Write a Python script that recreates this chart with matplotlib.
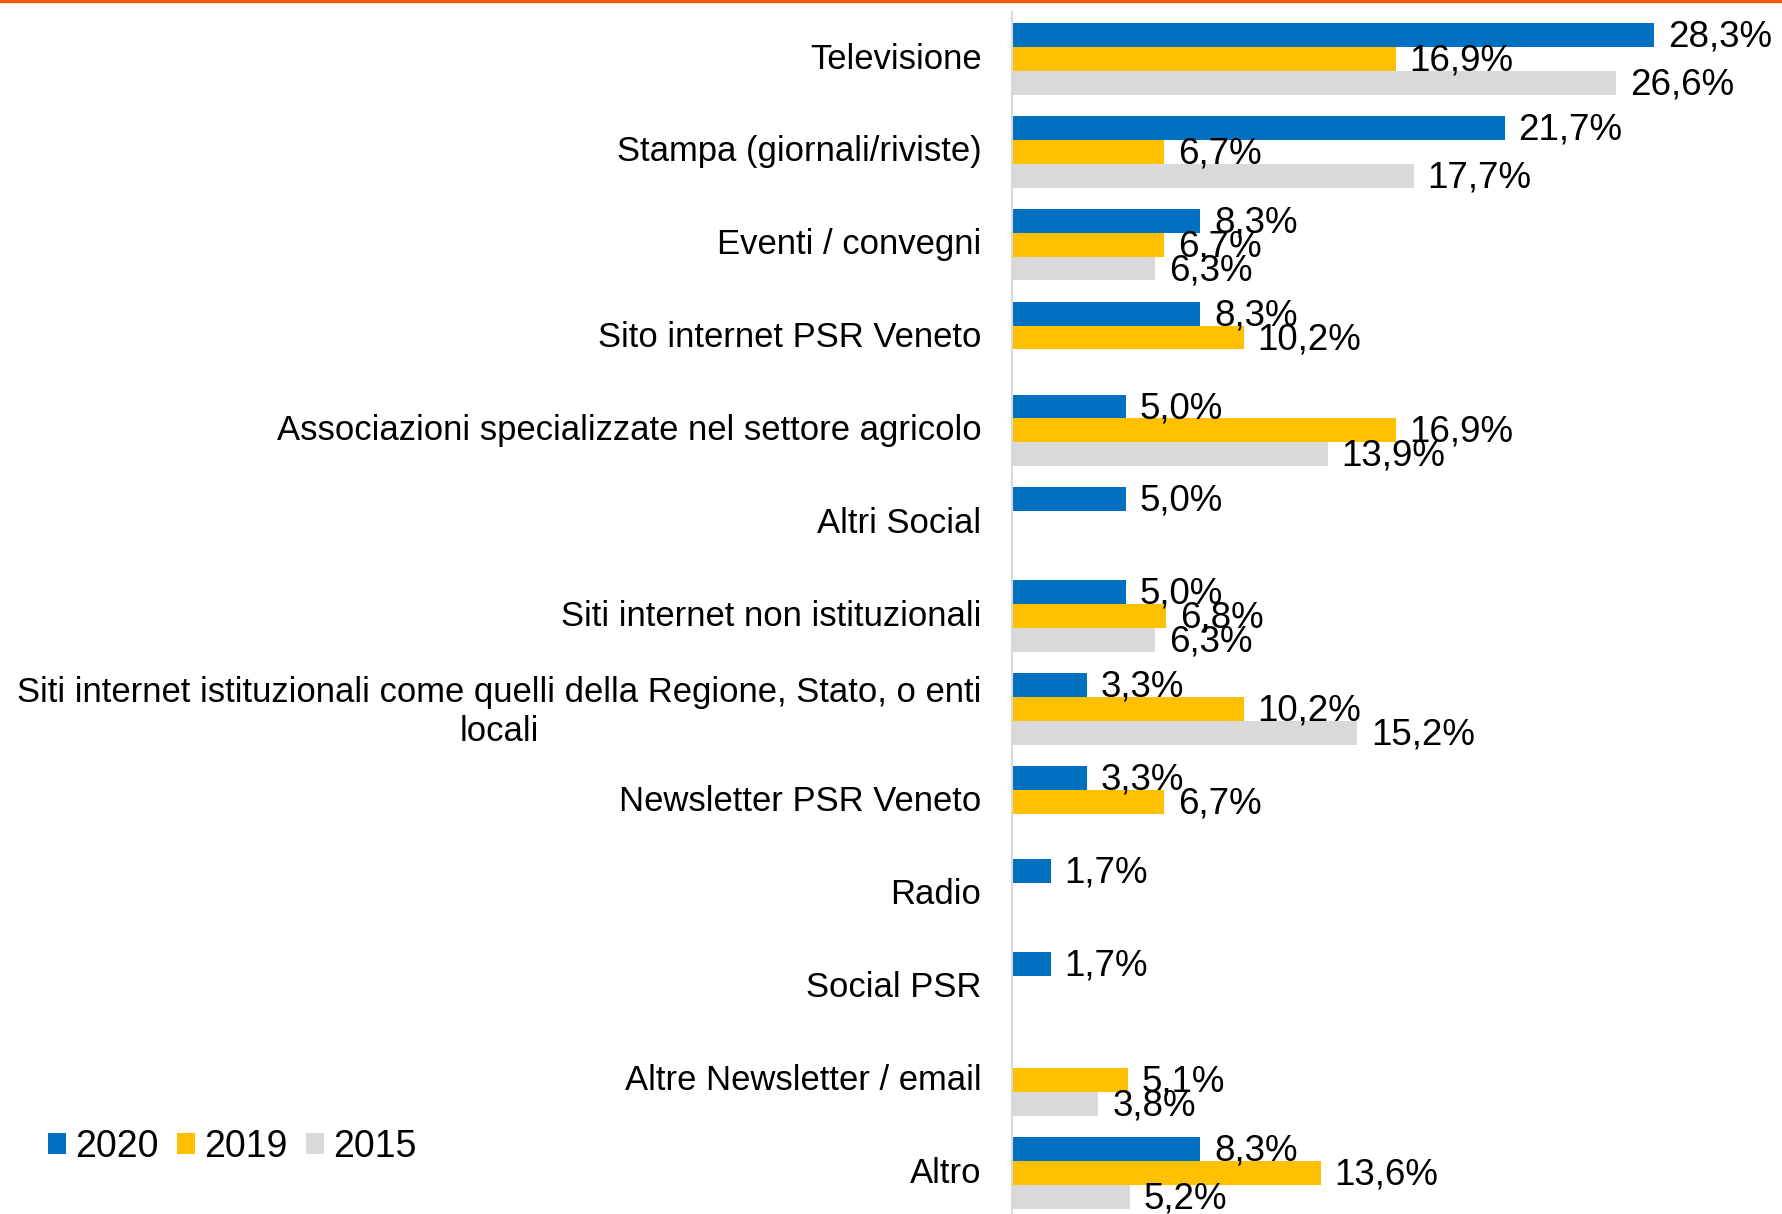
import matplotlib
matplotlib.use('Agg')
from matplotlib import pyplot as plt
from matplotlib.patches import Patch
from matplotlib.lines import Line2D
import matplotlib.transforms as mtransforms

# categories, top to bottom
categories = [
    'Televisione',
    'Stampa (giornali/riviste)',
    'Eventi / convegni',
    'Sito internet PSR Veneto',
    'Associazioni specializzate nel settore agricolo',
    'Altri Social',
    'Siti internet non istituzionali',
    'Siti internet istituzionali come quelli della Regione, Stato, o enti\nlocali',
    'Newsletter PSR Veneto',
    'Radio',
    'Social PSR',
    'Altre Newsletter / email',
    'Altro',
]

# values in %, None = no bar
v2020 = [28.3, 21.7, 8.3, 8.3, 5.0, 5.0, 5.0, 3.3, 3.3, 1.7, 1.7, None, 8.3]
v2019 = [16.9, 6.7, 6.7, 10.2, 16.9, None, 6.8, 10.2, 6.7, None, None, 5.1, 13.6]
v2015 = [26.6, 17.7, 6.3, None, 13.9, None, 6.3, 15.2, None, None, None, 3.8, 5.2]

series_names = ['2020', '2019', '2015']
series_colors = ['#0070C0', '#FFC000', '#D9D9D9']

plt.rcParams['font.family'] = ['Liberation Sans', 'DejaVu Sans']

fig = plt.figure(figsize=(17.82, 12.14), dpi=100)
ax = fig.add_axes([1012 / 1782, 0.0, 1 - 1012 / 1782, 1 - 12 / 1214])

bar_h = 0.257
fs_cat = 24.9
fs_val = 26.5

for k, (vals, col) in enumerate(zip([v2020, v2019, v2015], series_colors)):
    offset = (k - 1) * bar_h
    for i, v in enumerate(vals):
        if v is None:
            continue
        y = i + offset
        ax.barh(y, v, height=bar_h, color=col)
        ax.annotate(f'{v:.1f}%'.replace('.', ','), (v, y), xytext=(10, -1.5),
                    textcoords='offset points', va='center', ha='left',
                    fontsize=fs_val, color='black')

n = len(categories)
ax.set_xlim(0, (1782 - 1012) / 22.7)
ax.set_ylim(12.44, -0.506)
ax.set_yticks(range(n))
ax.set_yticklabels(categories, fontsize=fs_cat, linespacing=1.25)
ax.tick_params(axis='y', length=0, pad=22)
ax.set_xticks([])
for s in ['top', 'right', 'bottom']:
    ax.spines[s].set_visible(False)
ax.spines['left'].set_color('#D9D9D9')
ax.spines['left'].set_linewidth(1.5)
# nudge category labels up a bit
shift = mtransforms.ScaledTranslation(0, 2.5 / 72, fig.dpi_scale_trans)
for t in ax.get_yticklabels():
    t.set_multialignment('center')
    t.set_transform(t.get_transform() + shift)

# legend
handles = [Patch(facecolor=c, edgecolor='none') for c in series_colors]
fig.legend(handles, series_names, loc='center left', bbox_to_anchor=(0.027, 1 - 1147 / 1214),
           ncol=3, frameon=False, fontsize=27, handlelength=0.48, handleheight=0.48,
           handletextpad=0.24, columnspacing=0.5, borderpad=0, borderaxespad=0)

# orange line on top
fig.add_artist(Line2D([0, 1], [0.999, 0.999], color='#F25C19', linewidth=2.5,
                      transform=fig.transFigure))

plt.savefig('out.png', dpi=100)
